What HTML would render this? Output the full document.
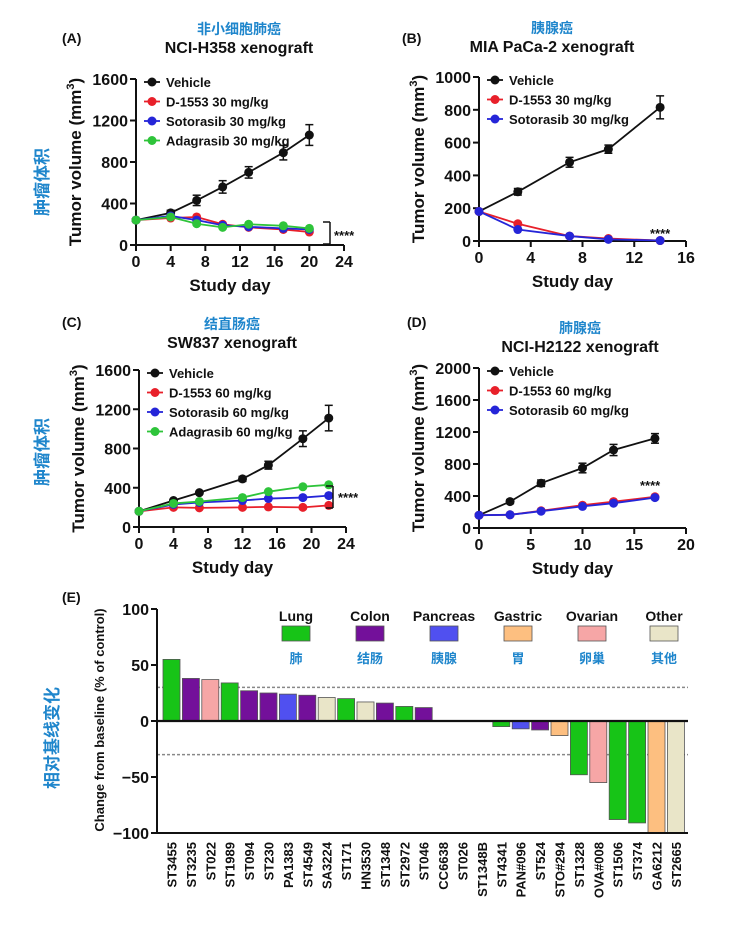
<!DOCTYPE html>
<html><head><meta charset="utf-8"><style>
body{margin:0;background:#fff;width:736px;height:938px;overflow:hidden}
svg{display:block}
text{font-family:"Liberation Sans","Noto Sans CJK SC",sans-serif;font-weight:bold}
</style></head><body>
<svg id="s" width="736" height="938" xmlns="http://www.w3.org/2000/svg"></svg>
<script>
var S=document.getElementById('s'),out='';
function T(x,y,t,sz,opt){opt=opt||{};out+='<text x="'+x+'" y="'+y+'" font-size="'+sz+'" fill="'+(opt.c||'#111')+'" text-anchor="'+(opt.a||'start')+'"'+(opt.r?' transform="rotate('+opt.r+' '+x+' '+y+')"':'')+'>'+t+'</text>';}
function L(x1,y1,x2,y2,c,w,d){out+='<line x1="'+x1+'" y1="'+y1+'" x2="'+x2+'" y2="'+y2+'" stroke="'+(c||'#111')+'" stroke-width="'+(w||2)+'"'+(d?' stroke-dasharray="'+d+'"':'')+'/>';}
var BLUE='#1f86cc';
function chart(p){
 var ox=p.ox,oy=p.oy,w=p.w,h=p.h;
 function X(v){return ox+v/p.xmax*w}function Y(v){return oy-v/p.ymax*h}
 L(ox,oy,ox+w,oy);L(ox,oy,ox,oy-h);
 for(var v=0;v<=p.xmax;v+=p.xs){L(X(v),oy,X(v),oy+6);T(X(v),oy+22,v,16,{a:'middle'});}
 for(var v=0;v<=p.ymax;v+=p.ys){L(ox-6,Y(v),ox,Y(v));T(ox-8,Y(v)+6,v,16,{a:'end'});}
 T(ox+w/2-10,oy+46,'Study day',17,{a:'middle'});
 var yc=oy-h/2;out+='<text x="'+(ox-55)+'" y="'+yc+'" font-size="17" text-anchor="middle" transform="rotate(-90 '+(ox-55)+' '+yc+')" fill="#111">Tumor volume (mm<tspan dy="-7" font-size="11">3</tspan><tspan dy="7">)</tspan></text>';
 p.series.forEach(function(s,i){
  var pts=s.d.map(function(d){return X(d[0])+','+Y(d[1])}).join(' ');
  out+='<polyline points="'+pts+'" fill="none" stroke="'+s.c+'" stroke-width="1.8"/>';
  s.d.forEach(function(d){if(d[2]){L(X(d[0]),Y(d[1]+d[2]),X(d[0]),Y(d[1]-d[2]),s.c,1.5);L(X(d[0])-4,Y(d[1]+d[2]),X(d[0])+4,Y(d[1]+d[2]),s.c,1.5);L(X(d[0])-4,Y(d[1]-d[2]),X(d[0])+4,Y(d[1]-d[2]),s.c,1.5);}
   out+='<circle cx="'+X(d[0])+'" cy="'+Y(d[1])+'" r="4.5" fill="'+s.c+'"/>';});
  var ly=oy-h+3+i*19.5;L(ox+8,ly,ox+24,ly,s.c,1.8);out+='<circle cx="'+(ox+16)+'" cy="'+ly+'" r="4.5" fill="'+s.c+'"/>';
  T(ox+30,ly+5,s.n,13);
 });
 T(p.lx,p.ly,p.lab,14);T(p.tx,p.cy,p.cn,14,{a:'middle',c:BLUE});T(p.tx,p.cy+19,p.en,16,{a:'middle'});
}
var K='#111',R='#e8202a',B='#2525d8',G='#2ec43a';
chart({ox:136,oy:245,w:208,h:166,xmax:24,xs:4,ymax:1600,ys:400,lx:62,ly:43,lab:'(A)',tx:239,cy:34,cn:'非小细胞肺癌',en:'NCI-H358 xenograft',
series:[{n:'Vehicle',c:K,d:[[0,240],[4,310,25],[7,430,50],[10,560,60],[13,700,55],[17,890,70],[20,1060,100]]},
{n:'D-1553 30 mg/kg',c:R,d:[[0,240],[4,260],[7,270],[10,200],[13,170],[17,150],[20,125]]},
{n:'Sotorasib 30 mg/kg',c:B,d:[[0,240],[4,280],[7,240],[10,190],[13,175],[17,160],[20,150]]},
{n:'Adagrasib 30 mg/kg',c:G,d:[[0,240],[4,270],[7,205],[10,170],[13,200],[17,185],[20,160]]}]});
chart({ox:479,oy:241,w:207,h:164,xmax:16,xs:4,ymax:1000,ys:200,lx:402,ly:43,lab:'(B)',tx:552,cy:33,cn:'胰腺癌',en:'MIA PaCa-2 xenograft',
series:[{n:'Vehicle',c:K,d:[[0,180],[3,300,20],[7,480,30],[10,560,25],[14,815,70]]},
{n:'D-1553 30 mg/kg',c:R,d:[[0,180],[3,105],[7,30],[10,15],[14,3]]},
{n:'Sotorasib 30 mg/kg',c:B,d:[[0,180],[3,70],[7,30],[10,10],[14,3]]}]});
chart({ox:139,oy:527,w:207,h:157,xmax:24,xs:4,ymax:1600,ys:400,lx:62,ly:327,lab:'(C)',tx:232,cy:329,cn:'结直肠癌',en:'SW837 xenograft',
series:[{n:'Vehicle',c:K,d:[[0,160],[4,270],[7,350],[12,490,25],[15,630,40],[19,900,80],[22,1110,130]]},
{n:'D-1553 60 mg/kg',c:R,d:[[0,160],[4,200],[7,195],[12,200],[15,205],[19,200],[22,220]]},
{n:'Sotorasib 60 mg/kg',c:B,d:[[0,160],[4,230],[7,250],[12,270],[15,290],[19,300],[22,320]]},
{n:'Adagrasib 60 mg/kg',c:G,d:[[0,160],[4,240],[7,260],[12,300],[15,360],[19,410],[22,430]]}]});
chart({ox:479,oy:528,w:207,h:160,xmax:20,xs:5,ymax:2000,ys:400,lx:407,ly:327,lab:'(D)',tx:580,cy:333,cn:'肺腺癌',en:'NCI-H2122 xenograft',
series:[{n:'Vehicle',c:K,d:[[0,160],[3,330,25],[6,560,40],[10,750,60],[13,975,70],[17,1120,60]]},
{n:'D-1553 60 mg/kg',c:R,d:[[0,160],[3,165],[6,215],[10,285],[13,330],[17,390]]},
{n:'Sotorasib 60 mg/kg',c:B,d:[[0,160],[3,165],[6,210],[10,270],[13,310],[17,380]]}]});
L(323,222,330,222,K,1.5);L(330,222,330,244,K,1.5);L(323,244,330,244,K,1.5);T(334,240,'****',13);
T(650,238,'****',13);
L(326,486,333,486,K,1.5);L(333,486,333,508,K,1.5);L(326,508,333,508,K,1.5);T(338,502,'****',13);
T(640,490,'****',13);
T(48,182,'肿瘤体积',17,{a:'middle',c:BLUE,r:-90});T(48,452,'肿瘤体积',17,{a:'middle',c:BLUE,r:-90});
var ox=157,y0=721;function EY(v){return y0-v*1.12}
T(62,602,'(E)',14);
T(58,738,'相对基线变化',17,{a:'middle',c:BLUE,r:-90});
T(104,720,'Change from baseline (% of control)',13,{a:'middle',r:-90});
L(ox,EY(30),688,EY(30),'#888',1.5,'3,2');L(ox,EY(-30),688,EY(-30),'#888',1.5,'3,2');
var cols={g:'#17c417',p:'#73109a',b:'#5050f0',o:'#fdbf80',k:'#f6a6a6',e:'#e9e5c8'};
var names=['ST3455','ST3235','ST022','ST1989','ST094','ST230','PA1383','ST4549','SA3224','ST171','HN3530','ST1348','ST2972','ST046','CC6638','ST026','ST1348B','ST4341','PAN#096','ST524','STO#294','ST1328','OVA#008','ST1506','ST374','GA6212','ST2665'];
var vals=[55,38,37,34,27,25,24,23,21,20,17,16,13,12,0,0,0,-5,-7,-8,-13,-48,-55,-88,-91,-100,-100];
var cc='gpkgppbpegepgp...gbpogkggoe';
for(var i=0;i<27;i++){var x=163+i*19.4;
 if(vals[i]!=0){var y1=EY(Math.max(vals[i],0)),y2=EY(Math.min(vals[i],0));
  out+='<rect x="'+x+'" y="'+y1+'" width="17" height="'+(y2-y1)+'" fill="'+cols[cc[i]]+'" stroke="#555" stroke-width="0.8"/>';}
 T(x+13.5,842,names[i],13,{a:'end',r:-90});}
L(ox,EY(100),ox,EY(-100));L(ox,y0,688,y0,K,2.2);L(ox,EY(-100),688,EY(-100));
[100,50,0,-50,-100].forEach(function(v){L(ox-6,EY(v),ox,EY(v));T(ox-8,EY(v)+6,v==-100?'−100':v==-50?'−50':v,16,{a:'end'});});
var lg=[['Lung','肺','g',296],['Colon','结肠','p',370],['Pancreas','胰腺','b',444],['Gastric','胃','o',518],['Ovarian','卵巢','k',592],['Other','其他','e',664]];
lg.forEach(function(l){T(l[3],621,l[0],14,{a:'middle'});out+='<rect x="'+(l[3]-14)+'" y="626" width="28" height="15" fill="'+cols[l[2]]+'" stroke="#555" stroke-width="0.8"/>';T(l[3],663,l[1],13,{a:'middle',c:BLUE});});
S.innerHTML=out;
</script>
</body></html>
